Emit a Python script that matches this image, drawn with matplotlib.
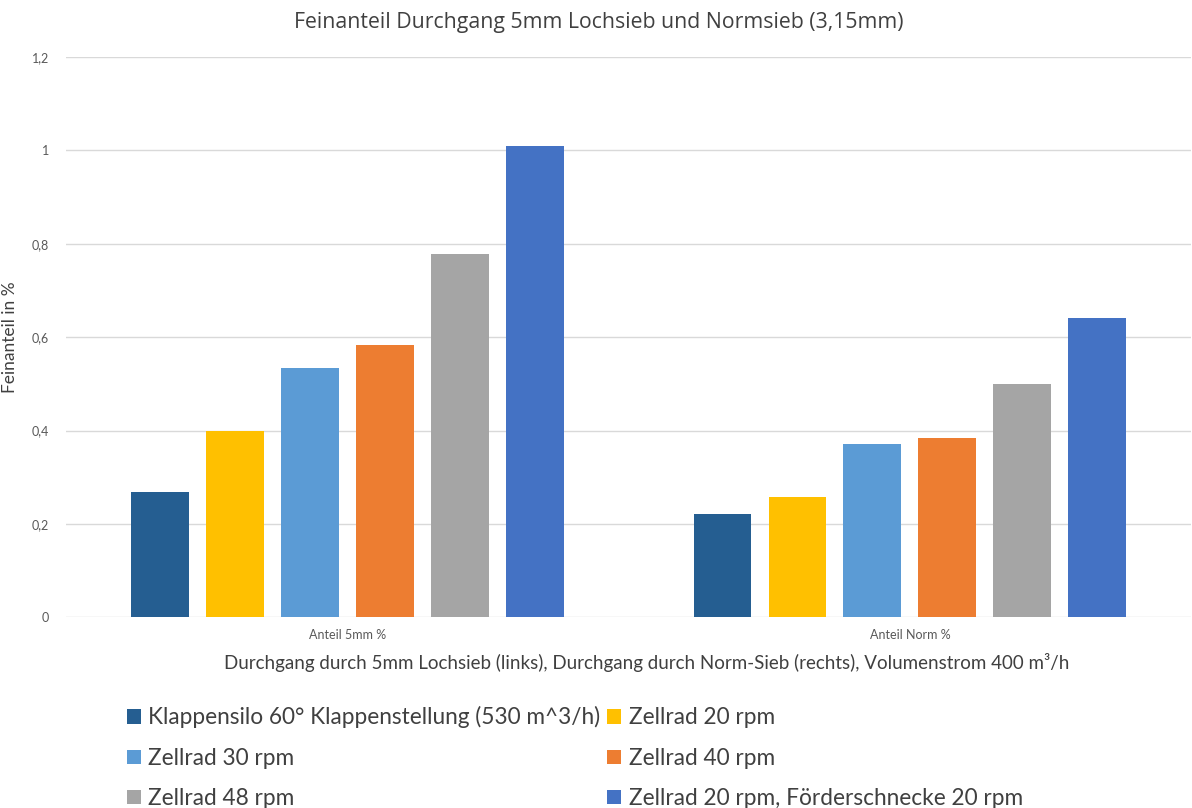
import matplotlib.pyplot as plt
import numpy as np

plt.rcParams['font.family'] = ['Lato', 'DejaVu Sans']

categories = ['Anteil 5mm %', 'Anteil Norm %']
series = [
    'Klappensilo 60° Klappenstellung (530 m^3/h)',
    'Zellrad 20 rpm',
    'Zellrad 30 rpm',
    'Zellrad 40 rpm',
    'Zellrad 48 rpm',
    'Zellrad 20 rpm, Förderschnecke 20 rpm',
]
values = [
    [0.268, 0.221],
    [0.399, 0.258],
    [0.534, 0.371],
    [0.583, 0.385],
    [0.778, 0.500],
    [1.009, 0.641],
]
colors = ['#255E91', '#FFC000', '#5B9BD5', '#ED7D31', '#A5A5A5', '#4472C4']
yticks = [0, 0.2, 0.4, 0.6, 0.8, 1.0, 1.2]
ytick_labels = ['0', '0,2', '0,4', '0,6', '0,8', '1', '1,2']

fig = plt.figure(figsize=(11.92, 8.08), dpi=100)
ax = fig.add_axes([0.0554, 0.2358, 0.944, 0.6937])

x = np.arange(len(categories))
step = 0.1333
width = 0.103
bars = []
for i, (name, vals) in enumerate(zip(series, values)):
    offset = (i - (len(series) - 1) / 2) * step
    bars.append(ax.bar(x + offset, vals, width, color=colors[i], label=name, zorder=3))

ax.set_xlim(-0.5, 1.5)
ax.set_ylim(0, 1.2)
ax.set_yticks(yticks)
ax.set_yticklabels(ytick_labels)
ax.set_xticks(x)
ax.set_xticklabels(categories)
ax.tick_params(axis='both', length=0, colors='#595959', labelsize=9)
ax.tick_params(axis='y', pad=12)
ax.tick_params(axis='x', pad=8)
ax.grid(axis='y', color='#D9D9D9', linewidth=1, zorder=0)
for s in ax.spines.values():
    s.set_visible(False)

ax.set_xlabel('Durchgang durch 5mm Lochsieb (links), Durchgang durch Norm-Sieb (rechts), Volumenstrom 400 m³/h',
              fontsize=13.5, color='#404040')
ax.xaxis.set_label_coords(0.5156, -0.064)
ax.set_ylabel('Feinanteil in %', fontsize=12.5, color='#404040')
ax.yaxis.set_label_coords(-0.0427, 0.5)
fig.text(0.502, 0.972, 'Feinanteil Durchgang 5mm Lochsieb und Normsieb (3,15mm)',
         ha='center', va='center', fontsize=15.3, color='#404040',
         family=['Open Sans', 'DejaVu Sans'])

# legend reads row by row, matplotlib fills columns first
order = [0, 2, 4, 1, 3, 5]
leg = fig.legend([bars[i] for i in order], [series[i] for i in order],
                 loc='upper left', bbox_to_anchor=(0.097, 0.140), ncol=2, frameon=False,
                 fontsize=16.3, handlelength=0.6, handleheight=0.6, handletextpad=0.35,
                 columnspacing=0.3, labelspacing=0.86, borderpad=0)
for t in leg.get_texts():
    t.set_color('#404040')

fig.savefig('out.png', dpi=100)
